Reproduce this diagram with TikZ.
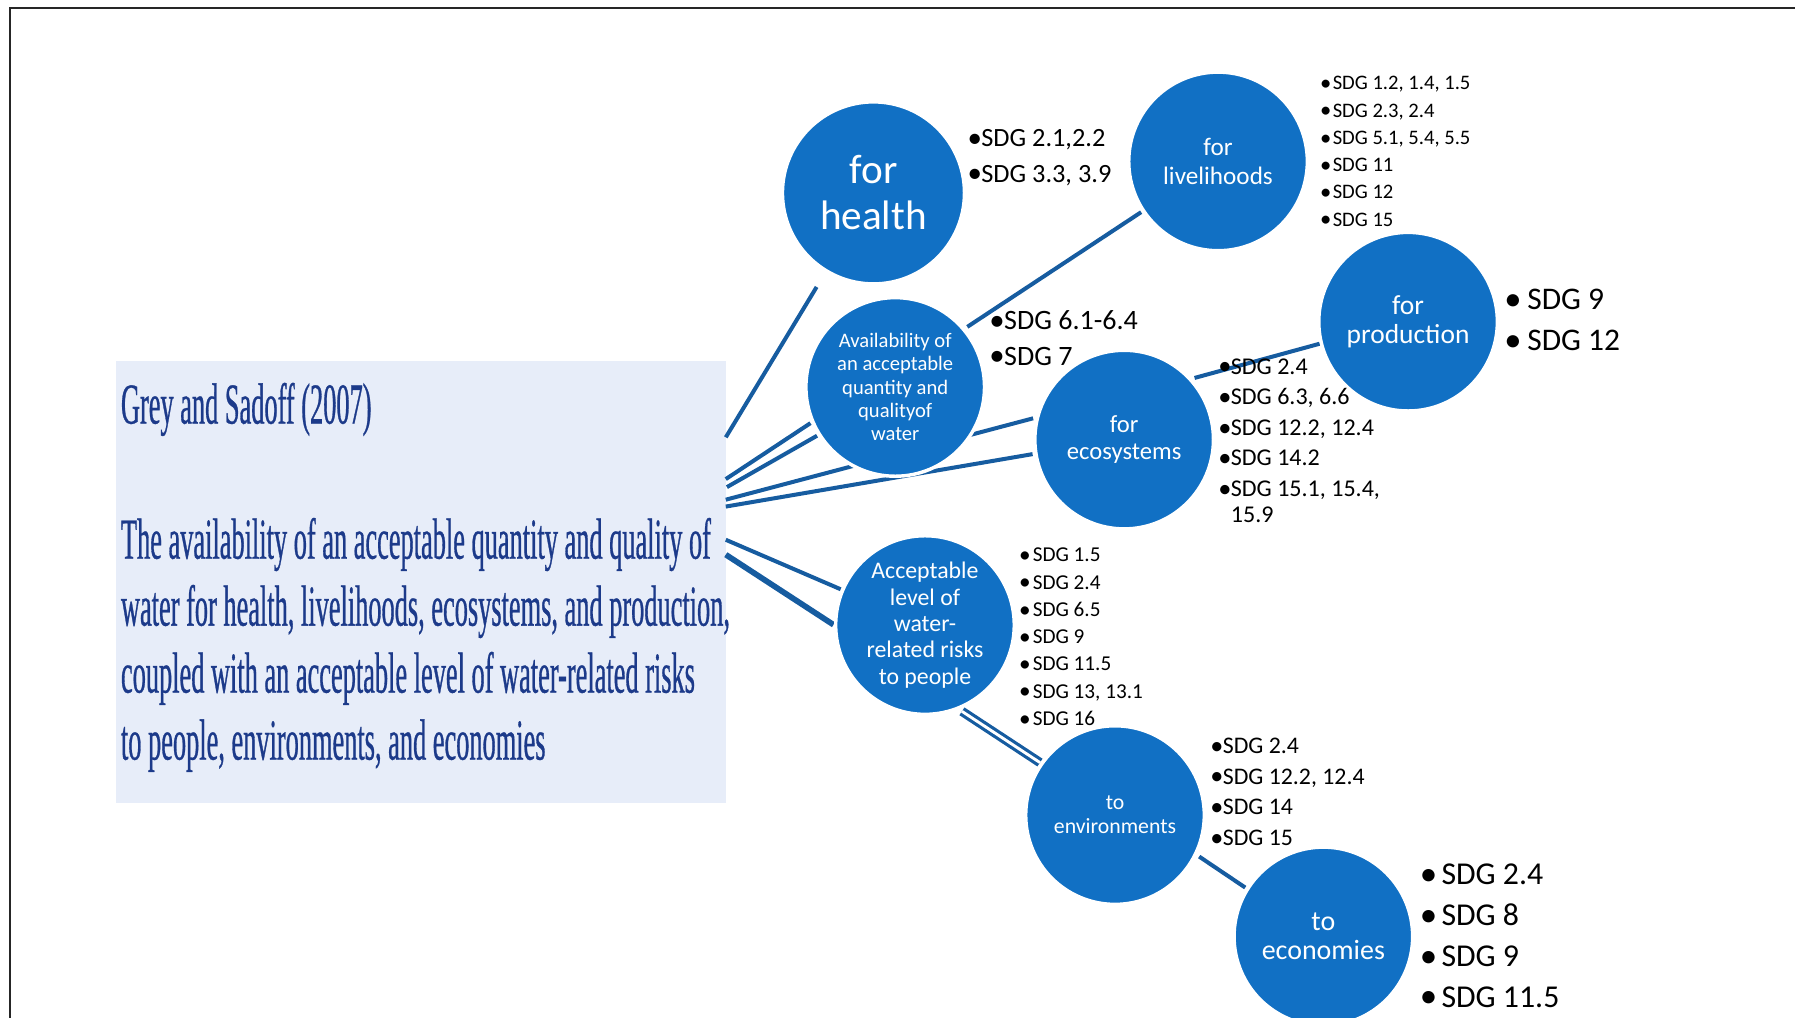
\documentclass[tikz,border=0pt]{standalone}
\usepackage{fontspec}
\usepackage{graphicx}
\setmainfont{Carlito}
\newfontfamily\citefont[FakeStretch=0.455,FakeBold=0.5]{Liberation Serif}
\usetikzlibrary{calc}

\definecolor{bubblefill}{RGB}{17,112,196}
\definecolor{linkblue}{RGB}{22,92,160}
\definecolor{panelfill}{RGB}{231,237,249}
\definecolor{citeblue}{RGB}{28,58,138}

% bullet in a box of given width
\newcommand{\bl}[1]{\makebox[#1][l]{\raisebox{-0.03em}{\scalebox{1.1}{•}}}}

\begin{document}
\begin{tikzpicture}[x=1pt,y=-1pt,
  bubble/.style={circle, fill=bubblefill, draw=white, line width=3pt,
                 minimum size=156pt, inner sep=0pt},
  bubbletext/.style={text=white, align=center, inner sep=0pt},
  link/.style={draw=linkblue, line width=3.5pt},
  twinlink/.style={draw=linkblue, line width=2.8pt, double=white, double distance=2.5pt},
  sdglist/.style={anchor=west, align=left, inner sep=0pt, text=black},
  citetext/.style={anchor=base west, inner sep=0pt, text=citeblue,
                   font=\citefont\fontsize{50.6}{58.5}\selectfont},
]
\useasboundingbox (0,0) rectangle (1568,889);

% page frame (top and left edges)
\draw[line width=1.7pt, black!85] (1570,7) -- (9,7) -- (9,891);

% definition panel
\node[fill=panelfill, minimum width=533pt, minimum height=386pt,
      anchor=north west, inner sep=0pt] (panel) at (101,315) {};
\node[citetext] (cite) at (105.5,370) {Grey and Sadoff (2007)};
\node[citetext] (def1) at (105.5,488) {The availability of an acceptable quantity and quality of};
\node[citetext] (def2) at (105.5,546.5) {water for health, livelihoods, ecosystems, and production,};
\node[citetext] (def3) at (105.5,605) {coupled with an acceptable level of water-related risks};
\node[citetext] (def4) at (105.5,663.5) {to people, environments, and economies};

% connector ends on the panel edge
\coordinate (pH)  at (634,382);
\coordinate (pA1) at (634,418.5);
\coordinate (pA2) at (635,425.5);
\coordinate (pE1) at (634,436.5);
\coordinate (pE2) at (634,442.5);
\coordinate (pR1) at (634,471.5);
\coordinate (pR2) at (634,484.5);

% circle positions
\coordinate (cHealth) at (763,168.5);
\coordinate (cLive)   at (1064,141);
\coordinate (cAvail)  at (782,338);
\coordinate (cProd)   at (1230,281);
\coordinate (cEco)    at (982,384);
\coordinate (cAcc)    at (808,546);
\coordinate (cEnv)    at (974,712);
\coordinate (cEcon)   at (1156,818);

% circles are placed as empty shapes first so connectors can use their borders
\path (cHealth) node[bubble, minimum size=159pt, draw=none, fill=none] (health) {}
      (cLive)   node[bubble, draw=none, fill=none] (liveli) {}
      (cAvail)  node[bubble, draw=none, fill=none] (avail) {}
      (cProd)   node[bubble, draw=none, fill=none] (prod) {}
      (cEco)    node[bubble, draw=none, fill=none] (eco) {}
      (cAcc)    node[bubble, draw=none, fill=none] (acc) {}
      (cEnv)    node[bubble, draw=none, fill=none] (env) {}
      (cEcon)   node[bubble, draw=none, fill=none] (econ) {};

% connectors
\draw[link, shorten >=15pt] (pH) -- (health);
\draw[link, shorten <=2.5pt, shorten >=1pt] (avail.40) -- (liveli);
\draw[link, shorten >=1pt] (pA1) -- (avail.203);
\draw[link, shorten >=1pt] (pA2) -- (avail.212);
\draw[link, shorten >=2.5pt] (pE1) -- (eco.166);
\draw[link, shorten >=1.5pt] (pE2) -- (eco.189);
\draw[link, shorten <=2.5pt] (eco.42) -- (prod.194.5);
\draw[link, shorten >=0.5pt] (pR1) -- (acc.157);
\draw[link, line width=5pt, shorten >=0.5pt] (pR2) -- (acc.180);
\draw[twinlink, shorten <=3pt, shorten >=0.5pt] (acc.-68) -- (env.145);
\draw[link, shorten <=2.5pt, shorten >=1pt] (env.-26) -- (econ.148);

% circles drawn over the connectors
\node[bubble, minimum size=159pt] (healthdisc) at (cHealth) {};
\node[bubble] (livedisc)  at (cLive)  {};
\node[bubble] (availdisc) at (cAvail) {};
\node[bubble] (proddisc)  at (cProd)  {};
\node[bubble] (ecodisc)   at (cEco)   {};
\node[bubble] (accdisc)   at (cAcc)   {};
\node[bubble] (envdisc)   at (cEnv)   {};
\node[bubble] (econdisc)  at (cEcon)  {};

% circle labels
\node[bubbletext, font=\fontsize{36}{40}\selectfont] (healthtxt) at (cHealth) {for\\health};
\node[bubbletext, font=\fontsize{22}{25}\selectfont] (livetxt) at (cLive) {for\\livelihoods};
\node[bubbletext, font=\fontsize{18}{20.5}\selectfont] (availtxt) at (cAvail)
  {Availability of\\an acceptable\\quantity and\\qualityof\\water};
\node[bubbletext, font=\fontsize{24}{26}\selectfont] (prodtxt) at (cProd) {for\\production};
\node[bubbletext, font=\fontsize{21.5}{24}\selectfont] (ecotxt) at (cEco) {for\\ecosystems};
\node[bubbletext, font=\fontsize{20.8}{23}\selectfont] (acctxt) at (cAcc)
  {Acceptable\\level of\\water-\\related risks\\to people};
\node[bubbletext, font=\fontsize{19}{21}\selectfont] (envtxt) at (cEnv) {to\\environments};
\node[bubbletext, font=\fontsize{24.4}{25.5}\selectfont] (econtxt) at (cEcon) {to\\economies};

% SDG target lists
\node[sdglist, font=\fontsize{23}{31}\selectfont] (healthsdg) at (845,137.5)
  {\bl{12pt}SDG 2.1,2.2\\\bl{12pt}SDG 3.3, 3.9};
\node[sdglist, font=\fontsize{18}{23.8}\selectfont] (livesdg) at (1153,132.5)
  {\bl{11pt}SDG 1.2, 1.4, 1.5\\\bl{11pt}SDG 2.3, 2.4\\\bl{11pt}SDG 5.1, 5.4, 5.5\\
   \bl{11pt}SDG 11\\\bl{11pt}SDG 12\\\bl{11pt}SDG 15};
\node[sdglist, font=\fontsize{24.5}{31}\selectfont] (availsdg) at (864,295.5)
  {\bl{13pt}SDG 6.1-6.4\\\bl{13pt}SDG 7};
\node[sdglist, font=\fontsize{27.5}{36}\selectfont] (prodsdg) at (1314,280)
  {\bl{20pt}SDG 9\\\bl{20pt}SDG 12};
\node[sdglist, font=\fontsize{21}{23}\selectfont] (ecosdg) at (1064,385)
  {\bl{11pt}SDG 2.4\\[3.7pt]\bl{11pt}SDG 6.3, 6.6\\[3.7pt]\bl{11pt}SDG 12.2, 12.4\\[3.7pt]
   \bl{11pt}SDG 14.2\\[3.7pt]\bl{11pt}SDG 15.1, 15.4,\\\hspace*{11pt}15.9};
\node[sdglist, font=\fontsize{18.5}{23.8}\selectfont] (accsdg) at (890,556.5)
  {\bl{12pt}SDG 1.5\\\bl{12pt}SDG 2.4\\\bl{12pt}SDG 6.5\\\bl{12pt}SDG 9\\
   \bl{12pt}SDG 11.5\\\bl{12pt}SDG 13, 13.1\\\bl{12pt}SDG 16};
\node[sdglist, font=\fontsize{20.8}{26.7}\selectfont] (envsdg) at (1057,692)
  {\bl{11pt}SDG 2.4\\\bl{11pt}SDG 12.2, 12.4\\\bl{11pt}SDG 14\\\bl{11pt}SDG 15};
\node[sdglist, font=\fontsize{27.8}{35.7}\selectfont] (econsdg) at (1240,817.5)
  {\bl{19pt}SDG 2.4\\\bl{19pt}SDG 8\\\bl{19pt}SDG 9\\\bl{19pt}SDG 11.5};
\end{tikzpicture}
\end{document}
